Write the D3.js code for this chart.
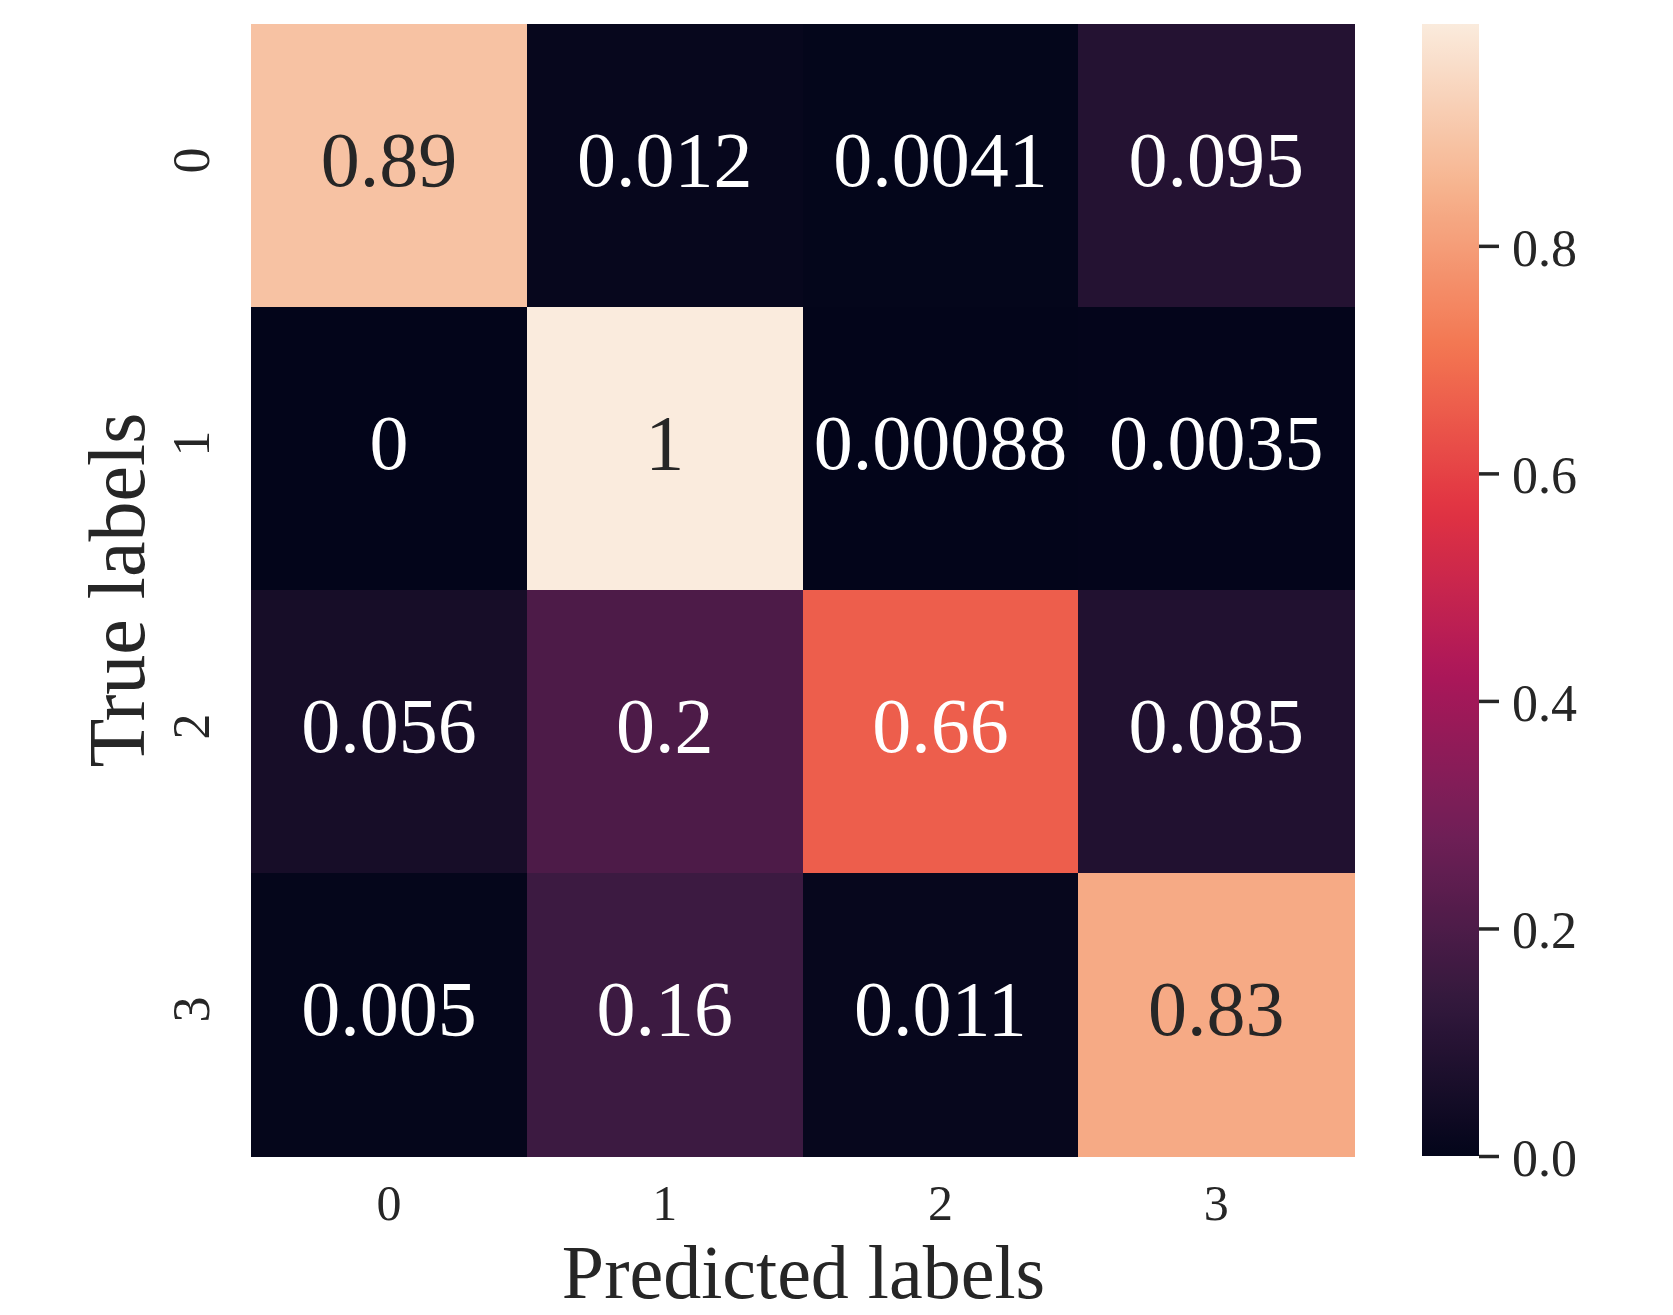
<!DOCTYPE html>
<html>
<head>
<meta charset="utf-8">
<script src="https://cdn.jsdelivr.net/npm/d3@7"></script>
<style>
  html, body { margin: 0; padding: 0; background: #ffffff; }
  svg { display: block; }
  text { font-family: "Liberation Serif", "DejaVu Serif", serif; }
</style>
</head>
<body>
<svg id="chart" width="1673" height="1315"></svg>
<script>
// Class labels along each axis
const predictedLabels = ["0", "1", "2", "3"];
const trueLabels = ["0", "1", "2", "3"];

// Normalised confusion matrix, one array per true label
const row0 = [0.89, 0.012, 0.0041, 0.095];
const row1 = [0, 1, 0.00088, 0.0035];
const row2 = [0.056, 0.2, 0.66, 0.085];
const row3 = [0.005, 0.16, 0.011, 0.83];
const matrix = [row0, row1, row2, row3];

// Colour bar ticks and colour range
const colorbarTicks = [0.0, 0.2, 0.4, 0.6, 0.8];
const colorDomain = [0, 0.995];

// "rocket" colour map, sampled at evenly spaced stops
const rocketStops = ["#03051a", "#35193e", "#701f57", "#ad1759", "#e13342", "#f37651", "#f6b48f", "#faebdd"];
const rocketPos = rocketStops.map((_, i) => i / (rocketStops.length - 1));
const rocket = d3.scaleLinear().domain(rocketPos).range(rocketStops)
  .interpolate(d3.interpolateRgb).clamp(true);
const norm = d3.scaleLinear().domain(colorDomain).range([0, 1]).clamp(true);
const color = v => rocket(norm(v));

const svg = d3.select("#chart");
const textDark = "#262626";

const plot = { left: 251, right: 1354, top: 24, bottom: 1156 };
const x = d3.scaleBand().domain(predictedLabels).range([plot.left, plot.right]).padding(0);
const y = d3.scaleBand().domain(trueLabels).range([plot.top, plot.bottom]).padding(0);

const cells = [];
matrix.forEach((row, i) => row.forEach((v, j) => cells.push({ t: trueLabels[i], p: predictedLabels[j], v })));

// Relative luminance, used to pick annotation colour
function luminance(c) {
  const rgb = d3.rgb(c);
  const lin = u => { u /= 255; return u <= 0.03928 ? u / 12.92 : Math.pow((u + 0.055) / 1.055, 2.4); };
  return 0.2126 * lin(rgb.r) + 0.7152 * lin(rgb.g) + 0.0722 * lin(rgb.b);
}

const fmt = d3.format(".2~g");

// Heatmap cells
svg.append("g").selectAll("rect").data(cells).join("rect")
  .attr("x", d => x(d.p))
  .attr("y", d => y(d.t))
  .attr("width", x.bandwidth() + 0.5)
  .attr("height", y.bandwidth() + 0.5)
  .attr("fill", d => color(d.v))
  .attr("shape-rendering", "crispEdges");

// Cell annotations
const annSize = 78;
svg.append("g").selectAll("text").data(cells).join("text")
  .attr("x", d => x(d.p) + x.bandwidth() / 2)
  .attr("y", d => y(d.t) + y.bandwidth() / 2 - 5.5 + 0.338 * annSize)
  .attr("text-anchor", "middle")
  .attr("font-size", annSize)
  .attr("fill", d => luminance(color(d.v)) > 0.408 ? textDark : "#ffffff")
  .text(d => fmt(d.v));

// X tick labels
const tickSize = 52;
svg.append("g").selectAll("text").data(predictedLabels).join("text")
  .attr("x", d => x(d) + x.bandwidth() / 2)
  .attr("y", 1220)
  .attr("text-anchor", "middle")
  .attr("font-size", 50)
  .attr("fill", textDark)
  .text(d => d);

// Y tick labels (rotated)
svg.append("g").selectAll("text").data(trueLabels).join("text")
  .attr("transform", d => `translate(209,${y(d) + y.bandwidth() / 2 - 5}) rotate(-90)`)
  .attr("text-anchor", "middle")
  .attr("font-size", tickSize)
  .attr("fill", textDark)
  .text(d => d);

// Axis titles
svg.append("text")
  .attr("x", (plot.left + plot.right) / 2 + 1)
  .attr("y", 1298)
  .attr("text-anchor", "middle")
  .attr("font-size", 76)
  .attr("fill", textDark)
  .text("Predicted labels");

svg.append("text")
  .attr("transform", `translate(144,${(plot.top + plot.bottom) / 2}) rotate(-90)`)
  .attr("text-anchor", "middle")
  .attr("font-size", 80)
  .attr("fill", textDark)
  .text("True labels");

// Colour bar
const cb = { left: 1422, right: 1479, top: 24, bottom: 1156 };
const cbScale = d3.scaleLinear().domain(colorDomain).range([cb.bottom, cb.top]);

const defs = svg.append("defs");
const grad = defs.append("linearGradient")
  .attr("id", "cbGradient")
  .attr("x1", 0).attr("y1", 1).attr("x2", 0).attr("y2", 0);
grad.selectAll("stop").data(d3.range(0, 1.0001, 1 / 64)).join("stop")
  .attr("offset", d => d)
  .attr("stop-color", d => rocket(d));

svg.append("rect")
  .attr("x", cb.left)
  .attr("y", cb.top)
  .attr("width", cb.right - cb.left)
  .attr("height", cb.bottom - cb.top)
  .attr("fill", "url(#cbGradient)");

const cbAxis = svg.append("g")
  .attr("transform", `translate(${cb.right},0)`)
  .call(d3.axisRight(cbScale).tickValues(colorbarTicks).tickSize(20).tickPadding(13).tickFormat(d3.format(".1f")));
cbAxis.select(".domain").remove();
cbAxis.selectAll(".tick line").attr("stroke", textDark).attr("stroke-width", 3.5);
cbAxis.selectAll(".tick text")
  .attr("font-family", "'Liberation Serif', 'DejaVu Serif', serif")
  .attr("font-size", tickSize)
  .attr("fill", textDark)
  .attr("dy", "0.37em");
</script>
</body>
</html>
